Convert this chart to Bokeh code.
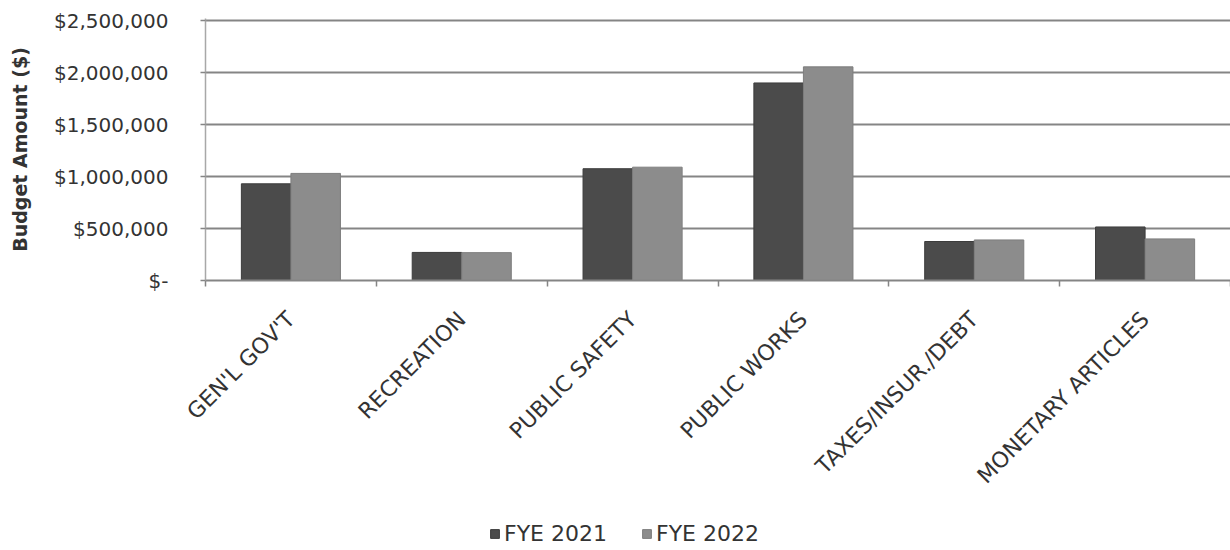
import math
from bokeh.plotting import figure
from bokeh.layouts import column
from bokeh.models import (ColumnDataSource, Range1d, FixedTicker, Legend, LegendItem)
from bokeh.embed import file_html
from bokeh.resources import INLINE

# Budget by department, two fiscal years
categories = ["GEN'L GOV'T", "RECREATION", "PUBLIC SAFETY", "PUBLIC WORKS",
              "TAXES/INSUR./DEBT", "MONETARY ARTICLES"]
fye_2021 = [930000, 270000, 1075000, 1900000, 375000, 515000]
fye_2022 = [1030000, 268000, 1090000, 2055000, 390000, 400000]
series_names = ["FYE 2021", "FYE 2022"]
y_tick_values = [0, 500000, 1000000, 1500000, 2000000, 2500000]
y_tick_labels = ["$-", "$500,000", "$1,000,000", "$1,500,000", "$2,000,000", "$2,500,000"]

FONT = "DejaVu Sans"
TEXT = "#333333"
GRID = "#858585"
DARK = "#4b4b4b"
LIGHT = "#8c8c8c"
DARK_EDGE = "#3c3c3c"
LIGHT_EDGE = "#7e7e7e"

centers = [i + 0.5 for i in range(len(categories))]
bar_w = 0.29
src = ColumnDataSource(dict(
    x1=[c - bar_w / 2 for c in centers],
    x2=[c + bar_w / 2 for c in centers],
    y1=fye_2021,
    y2=fye_2022,
))

p = figure(width=1230, height=515, output_backend="svg", toolbar_location=None,
           x_range=Range1d(0, len(categories)), y_range=Range1d(0, 2520000),
           min_border_left=205, min_border_right=0, min_border_top=18,
           min_border_bottom=235)
p.outline_line_color = None
p.background_fill_color = "white"
p.border_fill_color = "white"

p.vbar(x="x1", top="y1", width=bar_w, source=src,
       fill_color=DARK, line_color=DARK_EDGE, line_width=1)
p.vbar(x="x2", top="y2", width=bar_w, source=src,
       fill_color=LIGHT, line_color=LIGHT_EDGE, line_width=1)

# y axis
p.yaxis.ticker = FixedTicker(ticks=y_tick_values)
p.yaxis.major_label_overrides = dict(zip(y_tick_values, y_tick_labels))
p.yaxis.axis_label = "Budget Amount ($)"
p.yaxis.axis_label_text_font = FONT
p.yaxis.axis_label_text_font_style = "bold"
p.yaxis.axis_label_text_font_size = "19px"
p.yaxis.axis_label_text_color = TEXT
p.yaxis.axis_label_standoff = 20
p.yaxis.major_label_text_font = FONT
p.yaxis.major_label_text_font_size = "20px"
p.yaxis.major_label_text_color = TEXT
p.yaxis.major_label_standoff = 32
p.yaxis.major_tick_out = 5
p.yaxis.major_tick_in = 0
p.yaxis.major_tick_line_color = GRID
p.yaxis.major_tick_line_width = 1.5
p.yaxis.minor_tick_line_color = None
p.yaxis.axis_line_color = "#a8a8a8"
p.yaxis.axis_line_width = 1.5

# x axis: labels at category centres, tick marks at category boundaries
p.xaxis.ticker = FixedTicker(ticks=centers, minor_ticks=list(range(len(categories) + 1)))
p.xaxis.major_label_overrides = dict(zip(centers, categories))
p.xaxis.major_label_orientation = math.pi / 4
p.xaxis.major_label_text_font = FONT
p.xaxis.major_label_text_font_size = "22px"
p.xaxis.major_label_text_color = TEXT
p.xaxis.major_label_standoff = 29
p.xaxis.major_tick_out = 0
p.xaxis.major_tick_in = 0
p.xaxis.minor_tick_out = 6
p.xaxis.minor_tick_in = 0
p.xaxis.minor_tick_line_color = GRID
p.xaxis.minor_tick_line_width = 1.5
p.xaxis.axis_line_color = GRID
p.xaxis.axis_line_width = 2

p.xgrid.grid_line_color = None
p.ygrid.ticker = FixedTicker(ticks=y_tick_values)
p.ygrid.grid_line_color = GRID
p.ygrid.grid_line_width = 2

# legend strip underneath the chart; its swatches come from two bars that
# sit outside the strip's visible range
lg = figure(width=1230, height=35, output_backend="svg", toolbar_location=None,
            x_range=Range1d(0, 1), y_range=Range1d(0, 1),
            x_axis_type=None, y_axis_type=None, min_border=0)
lg.outline_line_color = None
lg.grid.visible = False
offscreen = ColumnDataSource(dict(x=[-5], top=[0]))
k1 = lg.vbar(x="x", top="top", width=0.1, source=offscreen,
             fill_color=DARK, line_color=DARK_EDGE)
k2 = lg.vbar(x="x", top="top", width=0.1, source=offscreen,
             fill_color=LIGHT, line_color=LIGHT_EDGE)
legend = Legend(items=[LegendItem(label=series_names[0], renderers=[k1]),
                       LegendItem(label=series_names[1], renderers=[k2])],
                orientation="horizontal", location=(284, 4),
                padding=0, margin=0, spacing=34, label_standoff=4,
                glyph_width=11, glyph_height=11, label_height=22,
                label_text_font=FONT, label_text_font_size="22px",
                label_text_color=TEXT, border_line_color=None,
                background_fill_alpha=0)
lg.add_layout(legend, "center")

open("out.html", "w").write(file_html(column(p, lg), INLINE))
